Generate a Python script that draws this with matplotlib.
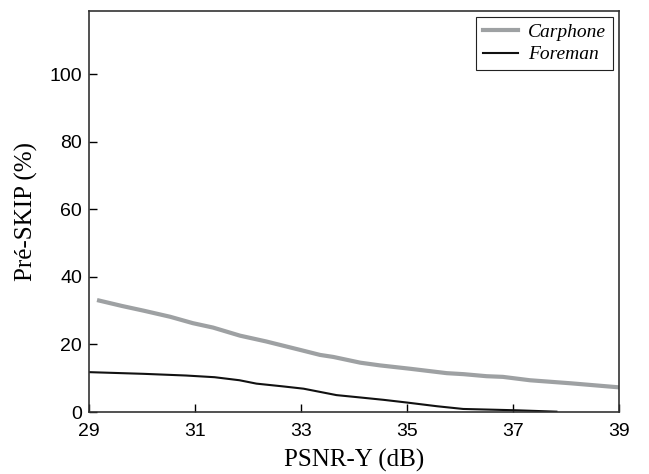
import numpy as np
import matplotlib.pyplot as plt

# PSNR-Y (dB) vs. Pré-SKIP rate
carphone_psnr = [29.19, 29.62, 30.03, 30.53, 30.96, 31.34, 31.85, 32.34, 32.98, 33.36, 33.61, 34.12, 34.49, 35.06, 35.75, 36.07, 36.50, 36.81, 37.32, 38.09, 39.0]
carphone_skip = [33.0, 31.4, 30.0, 28.2, 26.3, 25.0, 22.6, 20.9, 18.4, 16.9, 16.3, 14.6, 13.8, 12.8, 11.5, 11.2, 10.6, 10.4, 9.4, 8.5, 7.3]

foreman_psnr = [29.0, 30.03, 30.83, 31.37, 31.84, 32.16, 32.65, 33.05, 33.67, 34.12, 34.56, 35.0, 35.57, 36.06, 36.57, 37.08, 37.82]
foreman_skip = [11.8, 11.3, 10.8, 10.3, 9.4, 8.4, 7.6, 6.9, 5.0, 4.3, 3.6, 2.8, 1.7, 0.9, 0.7, 0.5, 0.1]

fig = plt.figure(figsize=(6.49, 4.74), dpi=100)
ax = fig.add_axes([0.1371, 0.1308, 0.8166, 0.8466])

ax.plot(carphone_psnr, carphone_skip, color='#9ea1a3', linewidth=3, label='Carphone')
ax.plot(foreman_psnr, foreman_skip, color='#111111', linewidth=1.5, label='Foreman')

ax.set_xlim(29, 39)
ax.set_ylim(0, 118.8)
ax.set_xticks(np.arange(29, 40, 2))
ax.set_yticks(np.arange(0, 101, 20))
ax.tick_params(direction='in', length=6, width=1, labelsize=14)
ax.tick_params(axis='x', pad=8)
ax.tick_params(axis='y', pad=5)
for lbl in ax.get_xticklabels() + ax.get_yticklabels():
    lbl.set_family('Liberation Sans')
for s in ax.spines.values():
    s.set_linewidth(1.2)
    s.set_color('#333333')

ax.set_xlabel('PSNR-Y (dB)', family='Liberation Serif', fontsize=18, labelpad=6)
ax.set_ylabel('Pré-SKIP (%)', family='Liberation Serif', fontsize=18, labelpad=8)

leg = ax.legend(loc='upper right', prop={'family': 'Liberation Serif', 'style': 'italic', 'size': 14},
                fancybox=False, edgecolor='#222222', framealpha=1, handlelength=1.8,
                handletextpad=0.55, borderaxespad=0.3, labelspacing=0.25, borderpad=0.35)
leg.get_frame().set_linewidth(0.8)

plt.savefig('out.png', dpi=100)
